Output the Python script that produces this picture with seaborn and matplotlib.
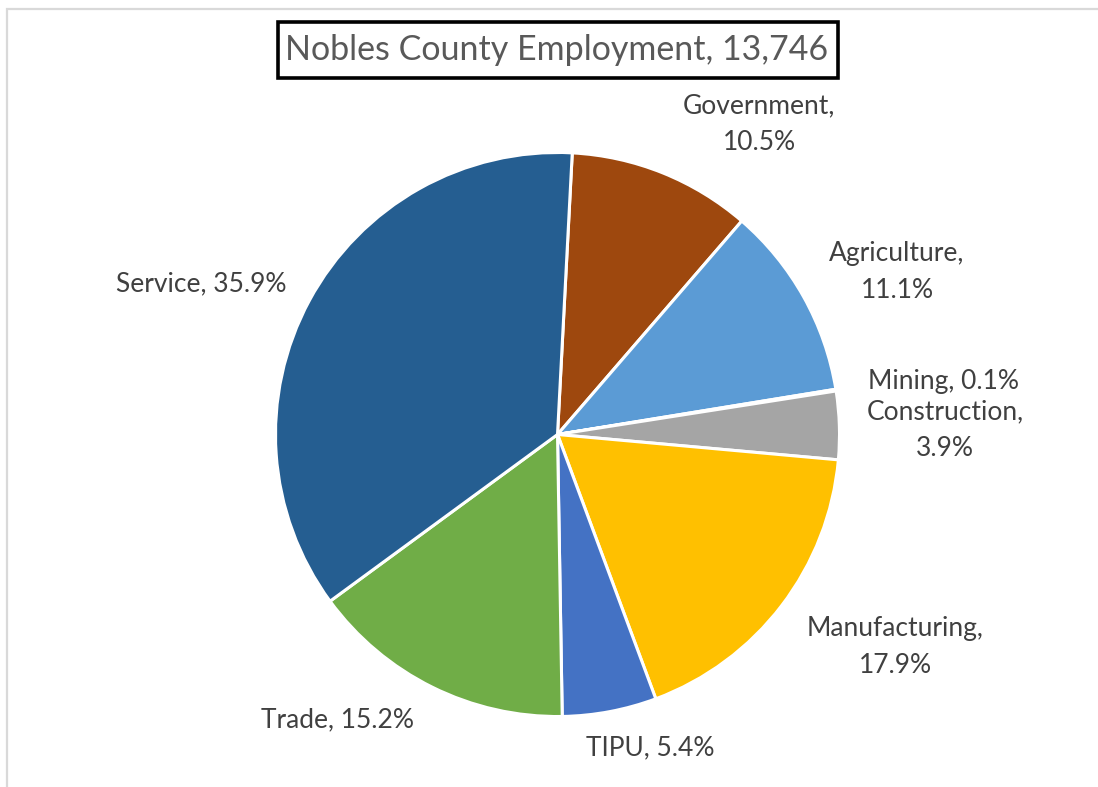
import matplotlib
matplotlib.use("Agg")
import matplotlib.pyplot as plt
from matplotlib.patches import Rectangle
import numpy as np
import seaborn as sns

sns.set_style("white")
plt.rcParams["font.family"] = ["Lato", "DejaVu Sans"]

# Employment shares by sector, clockwise from the top
sectors = ["Government", "Agriculture", "Mining", "Construction",
           "Manufacturing", "TIPU", "Trade", "Service"]
shares = [10.5, 11.1, 0.1, 3.9, 17.9, 5.4, 15.2, 35.9]
colors = ["#9E480E", "#5B9BD5", "#ED7D31", "#A5A5A5",
          "#FFC000", "#4472C4", "#70AD47", "#255E91"]
title = "Nobles County Employment, 13,746"

# label layout: centre in pixels and whether the label wraps
label_px = {
    "Government": (759, 124, True),
    "Agriculture": (897, 272, True),
    "Mining": (943, 382, False),
    "Construction": (945, 430, True),
    "Manufacturing": (895, 647, True),
    "TIPU": (650, 748, False),
    "Trade": (337, 720, False),
    "Service": (201, 284, False),
}

W, H = 1098, 787
fig = plt.figure(figsize=(W / 100, H / 100), dpi=100)
fig.patch.set_facecolor("white")

# chart-area outline
fig.add_artist(Rectangle((6.5 / W, -0.1), 1.2, 1.1 - 8.5 / H,
                         transform=fig.transFigure, fill=False,
                         edgecolor="#D9D9D9", linewidth=1.6))

cx, cy, r = 557.5, 434.5, 282.0
ax = fig.add_axes([(cx - r) / W, (H - cy - r) / H, 2 * r / W, 2 * r / H])
ax.pie(shares, colors=colors, startangle=87, counterclock=False,
       radius=1.0,
       wedgeprops=dict(edgecolor="white", linewidth=2.2))
ax.set_xlim(-1, 1)
ax.set_ylim(-1, 1)
ax.set_aspect("equal")
ax.axis("off")

for name, val in zip(sectors, shares):
    px, py, wrap = label_px[name]
    sep = ",\n" if wrap else ", "
    txt = f"{name}{sep}{val:.1f}%"
    fig.text(px / W, 1 - py / H, txt, ha="center", va="center",
             fontsize=19, color="#404040", linespacing=1.6)

# title with its framed box
fig.add_artist(Rectangle((277.5 / W, 1 - 77.5 / H), 560 / W, 55 / H,
                         transform=fig.transFigure, facecolor="white",
                         edgecolor="black", linewidth=2.6, zorder=3))
fig.text(557 / W, 1 - 50 / H, title, ha="center", va="center",
         fontsize=24.5, color="#595959", zorder=4)

fig.savefig("out.png", dpi=100, facecolor="white")
